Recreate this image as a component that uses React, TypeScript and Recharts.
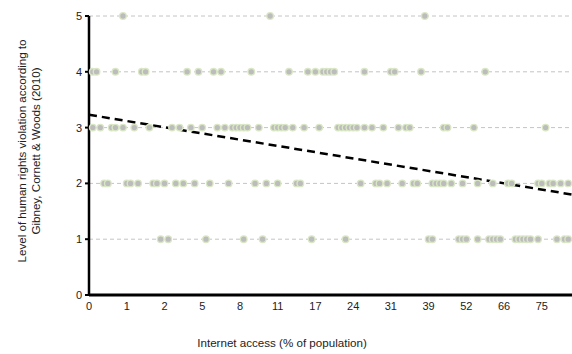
import { ScatterChart, Scatter, XAxis, YAxis, CartesianGrid, ReferenceLine } from 'recharts';

// x is the country's rank by internet access; tick labels show the % value at that rank
const xTickRanks = [0, 10, 20, 30, 40, 50, 60, 70, 80, 90, 100, 110, 120];
const xTickLabels = ['0', '1', '2', '5', '8', '11', '17', '24', '31', '39', '52', '66', '75'];
const yTicks = [0, 1, 2, 3, 4, 5];

// ranks of countries at each violation level
const level5 = [9, 48, 89];
const level4 = [1, 2, 7, 14, 15, 26, 29, 33, 35, 43, 53, 58, 60, 62, 63, 64, 65, 73, 80, 81, 88, 105];
const level3 = [1, 3, 6, 7, 9, 12, 16, 22, 24, 27, 30, 34, 36, 38, 39, 40, 41, 42, 45, 49, 50, 51, 52, 54, 57, 61, 66, 67, 68, 69, 70, 71, 73, 75, 78, 82, 84, 85, 94, 95, 102, 121];
const level2 = [4, 5, 10, 11, 13, 17, 18, 20, 23, 25, 28, 32, 37, 44, 47, 50, 55, 56, 72, 76, 77, 79, 83, 86, 87, 91, 92, 93, 94, 96, 99, 103, 107, 111, 112, 119, 120, 122, 123, 125, 127];
const level1 = [19, 21, 31, 41, 46, 59, 68, 90, 91, 98, 99, 100, 103, 106, 107, 108, 109, 113, 114, 115, 116, 117, 119, 124, 126, 127];

// linear trend read at both ends of the axis
const trendX = [0, 128];
const trendY = [3.23, 1.8];

const levels: Array<[number, number[]]> = [[5, level5], [4, level4], [3, level3], [2, level2], [1, level1]];
const points = levels.flatMap(([y, ranks]) => ranks.map(x => ({ x, y })));

const FONT = '"Liberation Sans", Arial, sans-serif';

function Dot(props: { cx?: number; cy?: number }) {
  const { cx, cy } = props;
  if (cx == null || cy == null) return null;
  return <circle cx={cx} cy={cy} r={3.3} fill="#bcbcbc" stroke="#dae7c6" strokeWidth={1.3} />;
}

function YTitle() {
  return (
    <text transform="translate(29,151) rotate(-90)" textAnchor="middle" fontFamily={FONT} fontSize={11.6} fill="#222">
      <tspan x={0} dy={-3}>Level of human rights violation according to</tspan>
      <tspan x={0} dy={13.5}>Gibney, Cornett &amp; Woods (2010)</tspan>
    </text>
  );
}

function XTitle() {
  return (
    <text x={282} y={347} textAnchor="middle" fontFamily={FONT} fontSize={11.6} fill="#222">
      Internet access (% of population)
    </text>
  );
}

export default function App() {
  return (
    <div style={{ position: 'absolute', left: 0, top: 0, width: 572, height: 354, background: '#fff' }}>
      <ScatterChart width={572} height={354} margin={{ top: 16, right: 0, bottom: 0, left: 0 }}>
        <CartesianGrid vertical={false} stroke="#c4c4c4" strokeDasharray="4 3" />
        <XAxis
          type="number"
          dataKey="x"
          domain={[0, 128]}
          ticks={xTickRanks}
          tickFormatter={(v: number) => xTickLabels[xTickRanks.indexOf(v)] ?? ''}
          height={59}
          axisLine={{ stroke: '#000', strokeWidth: 3 }}
          tickLine={false}
          tickSize={5}
          tickMargin={2}
          tick={{ fill: '#222', fontSize: 11, fontFamily: FONT }}
          label={<XTitle />}
        />
        <YAxis
          type="number"
          dataKey="y"
          domain={[0, 5]}
          ticks={yTicks}
          width={89}
          axisLine={{ stroke: '#000', strokeWidth: 2.5 }}
          tickLine={{ stroke: '#000', strokeWidth: 2 }}
          tickSize={4}
          tickMargin={3}
          tick={{ fill: '#222', fontSize: 11, fontFamily: FONT }}
          label={<YTitle />}
        />
        <Scatter data={points} shape={<Dot />} isAnimationActive={false} />
        <ReferenceLine
          segment={[{ x: trendX[0], y: trendY[0] }, { x: trendX[1], y: trendY[1] }]}
          stroke="#000"
          strokeWidth={2.5}
          strokeDasharray="8 5"
          ifOverflow="visible"
        />
      </ScatterChart>
    </div>
  );
}
